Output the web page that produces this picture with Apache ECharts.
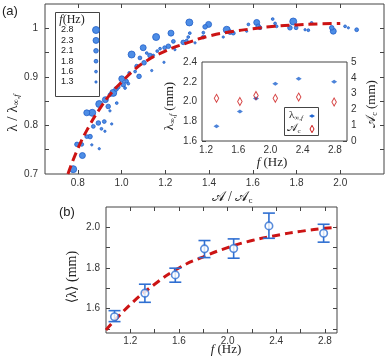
<!DOCTYPE html>
<html><head><meta charset="utf-8">
<script src="https://cdn.jsdelivr.net/npm/echarts@6/dist/echarts.min.js"></script>
<style>html,body{margin:0;padding:0;background:#fff}#c{width:390px;height:360px}</style>
</head><body><div id="c"></div>
<script>
// ---------- Panel (a): λ/λ∞,f vs A/Ac for each frequency ----------
const freqLabels = ['2.8', '2.3', '2.1', '1.8', '1.6', '1.3'];
const f28X = [0.779, 0.866, 0.898, 0.962, 1.046, 1.158, 1.310, 1.481, 1.785];
const f28Y = [0.710, 0.826, 0.844, 0.867, 0.946, 0.982, 1.012, 0.997, 1.014];
const f23X = [0.821, 0.841, 0.926, 1.001, 1.099, 1.226, 1.398, 1.618, 1.968];
const f23Y = [0.738, 0.826, 0.853, 0.896, 0.960, 0.990, 1.008, 1.012, 0.994];
const f21X = [0.796, 0.856, 0.894, 0.939, 0.975, 1.008, 1.080, 1.103, 1.130, 1.214, 1.282, 1.382, 1.496, 1.625, 1.770, 1.961];
const f21Y = [0.761, 0.777, 0.805, 0.839, 0.875, 0.884, 0.901, 0.929, 0.944, 0.963, 0.971, 1.003, 0.992, 1.004, 1.001, 1.001];
const f18X = [0.818, 0.841, 0.871, 0.921, 0.947, 0.985, 1.023, 1.069, 1.084, 1.197, 1.237, 1.374, 1.511, 1.633, 1.798, 2.075];
const f18Y = [0.761, 0.777, 0.798, 0.808, 0.863, 0.879, 0.891, 0.922, 0.939, 0.960, 0.973, 0.982, 0.990, 1.001, 1.001, 0.997];
const f16X = [0.908, 0.978, 1.016, 1.031, 1.035, 1.062, 1.115, 1.145, 1.163, 1.176, 1.298, 1.305, 1.312, 1.374, 1.580, 1.691, 1.702, 1.709, 1.854, 1.869, 2.022];
const f16Y = [0.793, 0.846, 0.877, 0.886, 0.908, 0.911, 0.949, 0.944, 0.953, 0.958, 0.975, 0.982, 0.990, 0.991, 1.008, 1.019, 1.010, 1.004, 0.996, 1.011, 1.004];
const f13X = [0.864, 0.898, 0.924, 0.947, 0.955, 1.138, 1.194, 1.244, 1.336, 1.465, 1.572, 1.839, 2.037];
const f13Y = [0.760, 0.752, 0.788, 0.830, 0.803, 0.913, 0.930, 0.956, 0.970, 0.982, 0.994, 0.997, 1.001];
// fitted dashed curve
const curveAX = [0.755, 0.80, 0.85, 0.90, 0.95, 1.00, 1.05, 1.10, 1.20, 1.30, 1.40, 1.50, 1.60, 1.70, 1.80, 1.90, 2.00];
const curveAY = [0.700, 0.752, 0.797, 0.834, 0.865, 0.889, 0.911, 0.929, 0.953, 0.970, 0.984, 0.993, 0.999, 1.004, 1.007, 1.009, 1.010];
const aXTicks = [0.8, 1.0, 1.2, 1.4, 1.6, 1.8, 2.0];
const aYTicks = [0.75, 0.8, 0.85, 0.9, 0.95, 1.0];
const aYLabels = [0.7, 0.8, 0.9, 1.0];

// ---------- Inset ----------
const insetF = [1.33, 1.62, 1.82, 2.06, 2.35, 2.79];
const lamInf = [1.75, 1.90, 2.03, 2.18, 2.23, 2.20];
const acVals = [2.70, 2.50, 2.88, 2.70, 2.78, 2.47];
const insetXTicks = [1.2, 1.6, 2.0, 2.4, 2.8];

// ---------- Panel (b) ----------
const bF = [1.07, 1.32, 1.57, 1.81, 2.05, 2.34, 2.79];
const bMean = [1.560, 1.676, 1.766, 1.894, 1.896, 2.007, 1.971];
const bLo = [1.536, 1.631, 1.730, 1.851, 1.848, 1.946, 1.927];
const bHi = [1.590, 1.720, 1.799, 1.935, 1.943, 2.070, 2.015];
const curveBX = [1.0, 1.2, 1.4, 1.6, 1.8, 2.0, 2.2, 2.4, 2.6, 2.8, 2.9];
const curveBY = [1.495, 1.62, 1.72, 1.80, 1.855, 1.90, 1.935, 1.96, 1.98, 1.995, 2.0];
const bXTicks = [1.2, 1.4, 1.6, 1.8, 2.0, 2.2, 2.4, 2.6, 2.8];
const bXLabels = [1.2, 1.6, 2.0, 2.4, 2.8];
const bYTicks = [1.5, 1.6, 1.7, 1.8, 1.9, 2.0];
const bYLabels = [1.6, 1.8, 2.0];

// ---------- styling ----------
const SANS = 'Liberation Sans, Arial, sans-serif';
const SERIF = 'Liberation Serif, DejaVu Serif, serif';
const BLUE = '#4d8de6', BLUE_EDGE = '#2260c8', RED = '#cc1414', LINE = '#444';
const symSizes = [7, 6, 4.6, 3.8, 2.8, 2.3];
const zip = (a, b) => a.map((v, i) => [v, b[i]]);

const chart = echarts.init(document.getElementById('c'), null, {renderer: 'canvas'});

function ax(gi, pos, min, max, ticks, labels, fmt, margin) {
  return {
    type: 'value', gridIndex: gi, position: pos, min: min, max: max,
    axisLine: {show: false},
    axisTick: {show: true, inside: true, length: 4, customValues: ticks, lineStyle: {color: LINE, width: 1}},
    axisLabel: labels ? {show: true, customValues: labels, formatter: fmt, margin: margin, color: '#333', fontSize: 10, fontFamily: SANS}
                      : {show: false},
    splitLine: {show: false}
  };
}
const f1 = v => (Math.abs(v - 1) < 1e-9 ? '1' : v.toFixed(1));
const fx = v => v.toFixed(1);

// text measuring for math labels
const mctx = document.createElement('canvas').getContext('2d');
function tw(t, size, fam, it) { mctx.font = (it ? 'italic ' : '') + size + 'px ' + fam; return mctx.measureText(t).width; }
function mtext(parts, cx, cy, rot) {
  let x = 0; const kids = [];
  parts.forEach(p => {
    const fam = p.f || SERIF;
    kids.push({type: 'text', x: x, y: p.dy || 0, z: 100,
      style: {text: p.t, fontSize: p.s, fontFamily: fam, fontStyle: p.i ? 'italic' : 'normal', fill: '#222', align: 'left', verticalAlign: 'middle'}});
    x += tw(p.t, p.s, fam, p.i);
  });
  kids.forEach(k => { k.x -= x / 2; });
  return {type: 'group', x: cx, y: cy, rotation: rot || 0, z: 100, children: kids, silent: true};
}

const CALA = '𝒜';
const graphics = [];
graphics.push({type: 'text', x: 2, y: 11, z: 100, style: {text: '(a)', fontSize: 13, fontFamily: SANS, fill: '#222', verticalAlign: 'middle'}});
graphics.push({type: 'text', x: 59, y: 212, z: 100, style: {text: '(b)', fontSize: 13, fontFamily: SANS, fill: '#222', verticalAlign: 'middle'}});
// axis titles
graphics.push(mtext([{t: 'λ', s: 15}, {t: ' / ', s: 15}, {t: 'λ', s: 15}, {t: '∞,', s: 9, dy: 4}, {t: 'f', s: 9, i: 1, dy: 4}], 13, 113, Math.PI / 2));
graphics.push(mtext([{t: CALA, s: 14}, {t: ' / ', s: 14}, {t: CALA, s: 14}, {t: 'c', s: 9, dy: 4}], 232, 197, 0));
graphics.push(mtext([{t: 'λ', s: 13}, {t: '∞,', s: 8, dy: 3}, {t: 'f', s: 8, i: 1, dy: 3}, {t: ' (mm)', s: 13}], 170, 106, Math.PI / 2));
graphics.push(mtext([{t: CALA, s: 13}, {t: 'c', s: 8, dy: 3}, {t: ' (mm)', s: 13}], 372, 104, Math.PI / 2));
graphics.push(mtext([{t: 'f', s: 13, i: 1}, {t: ' (Hz)', s: 13}], 272, 163, 0));
graphics.push(mtext([{t: '⟨λ⟩', s: 14}, {t: ' (mm)', s: 14}], 72, 277, Math.PI / 2));
graphics.push(mtext([{t: 'f', s: 13, i: 1}, {t: ' (Hz)', s: 13}], 226, 350, 0));
// legend (a)
graphics.push({type: 'rect', z: 99, shape: {x: 55.5, y: 12.5, width: 44, height: 84}, style: {fill: '#fff', stroke: LINE, lineWidth: 1}});
graphics.push(mtext([{t: 'f', s: 12, i: 1}, {t: '(Hz)', s: 12}], 72, 19.5, 0));
freqLabels.forEach((lab, i) => {
  const yy = 30 + i * 10.4;
  graphics.push({type: 'text', x: 61, y: yy, z: 100, style: {text: lab, fontSize: 9, fontFamily: SANS, fill: '#222', verticalAlign: 'middle'}});
  graphics.push({type: 'circle', z: 100, shape: {cx: 96, cy: yy, r: symSizes[i] / 2}, style: {fill: BLUE, stroke: BLUE_EDGE, lineWidth: 0.8}});
});
// inset legend
graphics.push({type: 'rect', z: 99, shape: {x: 284.5, y: 107.5, width: 34, height: 28}, style: {fill: '#fff', stroke: LINE, lineWidth: 1}});
graphics.push(mtext([{t: 'λ', s: 11}, {t: '∞,', s: 7, dy: 3}, {t: 'f', s: 7, i: 1, dy: 3}], 296, 115, 0));
graphics.push(mtext([{t: CALA, s: 11}, {t: 'c', s: 7, dy: 3}], 294, 128, 0));
graphics.push({type: 'polygon', z: 100, shape: {points: [[309, 116], [312, 114.3], [315, 116], [312, 117.7]]}, style: {fill: '#1f64d0'}});
graphics.push({type: 'polygon', z: 100, shape: {points: [[310, 129], [312, 125.3], [314, 129], [312, 132.7]]}, style: {fill: 'none', stroke: RED, lineWidth: 1}});

const scatterS = (name, X, Y, i) => ({
  name: name, type: 'scatter', xAxisIndex: 0, yAxisIndex: 0, data: zip(X, Y),
  symbol: 'circle', symbolSize: symSizes[i], z: 3,
  itemStyle: {color: BLUE, borderColor: BLUE_EDGE, borderWidth: 0.8, opacity: 1}
});

const option = {
  animation: false,
  backgroundColor: '#fff',
  grid: [
    {left: 45, top: 4, width: 339, height: 170, show: true, borderColor: LINE, borderWidth: 1, backgroundColor: 'transparent'},
    {left: 202, top: 62, width: 145, height: 79, show: true, borderColor: LINE, borderWidth: 1, backgroundColor: '#fff', z: 1},
    {left: 106, top: 207, width: 231, height: 126, show: true, borderColor: LINE, borderWidth: 1, backgroundColor: 'transparent'}
  ],
  xAxis: [
    ax(0, 'bottom', 0.65, 2.2, aXTicks, aXTicks, fx, 4),
    ax(0, 'top', 0.65, 2.2, aXTicks, null),
    ax(1, 'bottom', 1.15, 2.95, insetXTicks, insetXTicks, fx, 4),
    ax(1, 'top', 1.15, 2.95, insetXTicks, null),
    ax(2, 'bottom', 1.0, 2.9, bXTicks, bXLabels, fx, 3),
    ax(2, 'top', 1.0, 2.9, bXTicks, null)
  ],
  yAxis: [
    ax(0, 'left', 0.7, 1.05, aYTicks, aYLabels, f1, 7),
    ax(0, 'right', 0.7, 1.05, aYTicks, null),
    ax(1, 'left', 1.6, 2.4, [1.6, 1.8, 2.0, 2.2, 2.4], [1.6, 1.8, 2.0, 2.2, 2.4], fx, 5),
    ax(1, 'right', 0, 5, [0, 1, 2, 3, 4, 5], [0, 1, 2, 3, 4, 5], v => String(v), 4),
    ax(2, 'left', 1.48, 2.1, bYTicks, bYLabels, fx, 6),
    ax(2, 'right', 1.48, 2.1, bYTicks, null)
  ],
  series: [
    scatterS('2.8', f28X, f28Y, 0),
    scatterS('2.3', f23X, f23Y, 1),
    scatterS('2.1', f21X, f21Y, 2),
    scatterS('1.8', f18X, f18Y, 3),
    scatterS('1.6', f16X, f16Y, 4),
    scatterS('1.3', f13X, f13Y, 5),
    {type: 'line', xAxisIndex: 0, yAxisIndex: 0, data: zip(curveAX, curveAY), smooth: true, showSymbol: false, z: 4,
      lineStyle: {color: RED, width: 3, type: [9, 5]}},
    {type: 'scatter', xAxisIndex: 2, yAxisIndex: 2, data: zip(insetF, lamInf), symbol: 'diamond', symbolSize: [6, 4],
      itemStyle: {color: '#1f64d0'}, z: 5},
    {type: 'scatter', xAxisIndex: 2, yAxisIndex: 3, data: zip(insetF, acVals), symbol: 'diamond', symbolSize: [4.5, 8],
      itemStyle: {color: 'transparent', borderColor: RED, borderWidth: 1}, z: 5},
    {type: 'line', xAxisIndex: 4, yAxisIndex: 4, data: zip(curveBX, curveBY), smooth: true, showSymbol: false, z: 2,
      lineStyle: {color: RED, width: 3, type: [8, 5]}},
    {type: 'custom', xAxisIndex: 4, yAxisIndex: 4, z: 3,
      data: bF.map((f, i) => [f, bLo[i], bHi[i]]),
      encode: {x: 0, y: [1, 2]},
      renderItem: function (params, api) {
        const lo = api.coord([api.value(0), api.value(1)]);
        const hi = api.coord([api.value(0), api.value(2)]);
        const hw = 6, st = {stroke: '#2f6fd2', lineWidth: 1.6};
        return {type: 'group', children: [
          {type: 'line', shape: {x1: lo[0], y1: lo[1], x2: hi[0], y2: hi[1]}, style: st},
          {type: 'line', shape: {x1: lo[0] - hw, y1: lo[1], x2: lo[0] + hw, y2: lo[1]}, style: st},
          {type: 'line', shape: {x1: hi[0] - hw, y1: hi[1], x2: hi[0] + hw, y2: hi[1]}, style: st}
        ]};
      }},
    {type: 'scatter', xAxisIndex: 4, yAxisIndex: 4, data: zip(bF, bMean), symbol: 'circle', symbolSize: 7.5, z: 4,
      itemStyle: {color: '#fff', borderColor: '#2f6fd2', borderWidth: 1.6}}
  ],
  graphic: graphics
};
chart.setOption(option);
</script>
</body></html>
